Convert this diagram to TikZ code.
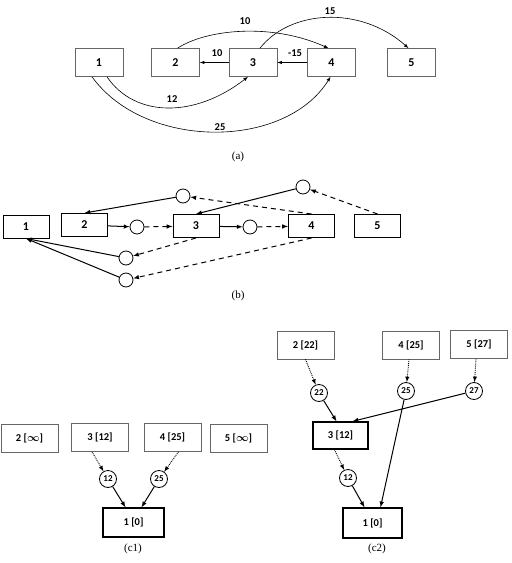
\documentclass[tikz,border=0pt]{standalone}
\usepackage{fontspec}
\setmainfont{Liberation Serif}
\newfontfamily\lbl{Carlito}
\usetikzlibrary{arrows,calc,positioning,shapes}
\tikzset{%
	boxa/.style   = {draw=black!60, line width=0.6pt, rectangle, minimum width=48pt, minimum height=28pt, inner sep=0pt, font=\lbl\bfseries\fontsize{12}{14}\selectfont},
	boxb/.style   = {draw, line width=1pt, rectangle, minimum width=46pt, minimum height=23pt, inner sep=0pt, font=\lbl\bfseries\fontsize{12}{14}\selectfont},
	boxc/.style   = {draw=black!60, line width=0.6pt, rectangle, minimum width=57pt, minimum height=28pt, inner sep=0pt, font=\lbl\bfseries\fontsize{10.5}{12}\selectfont},
	boxroot/.style= {boxc, draw=black, line width=1.3pt},
	hop/.style    = {draw, line width=0.8pt, circle, minimum size=14pt, inner sep=0pt},
	hopc/.style   = {hop, minimum size=17pt, font=\lbl\bfseries\fontsize{9}{10}\selectfont},
	elabel/.style = {font=\lbl\bfseries\fontsize{10.5}{12}\selectfont},
	caption/.style= {font=\fontsize{11}{13}\selectfont},
	arrow/.style  = {-latex, line width=0.6pt},
	solid arrow/.style = {-latex, line width=1pt},
	dash arrow/.style  = {-latex, line width=1pt, dash pattern=on 5pt off 4pt},
	dot arrow/.style   = {-latex, line width=0.9pt, densely dotted},
}

\begin{document}
\begin{tikzpicture}[x=1pt,y=-1pt]
		\useasboundingbox (0,0) rectangle (512,563);
		
		% (a) the graph
		\node[boxa] (a1) at (99,62.5) {1};
		\node[boxa] (a2) at (175.5,62.5) {2};
		\node[boxa] (a3) at (253,62.5) {3};
		\node[boxa] (a4) at (331.5,62.5) {4};
		\node[boxa] (a5) at (411.5,62.5) {5};
		
		\draw[arrow] (a3) -- (a2);
		\draw[arrow] (a4) -- (a3);
		\draw[arrow] ([xshift=2pt]a2.north) .. controls (205,30) and (270,22) .. ([xshift=-3pt]a4.north);
		\draw[arrow] ([xshift=7pt]a3.north) .. controls (290,10) and (360,5) .. ([xshift=-3pt]a5.north);
		\draw[arrow] ([xshift=8pt]a1.south) .. controls (135,118) and (195,118) .. ([xshift=-5pt]a3.south);
		\draw[arrow] ([xshift=-7pt]a1.south) .. controls (145,150) and (285,150) .. ([xshift=-1pt]a4.south);
		
		\node[elabel] (w32) at (217,53) {10};
		\node[elabel] (w43) at (295,53) {-15};
		\node[elabel] (w24) at (245,21) {10};
		\node[elabel] (w35) at (330,11) {15};
		\node[elabel] (w13) at (172,99) {12};
		\node[elabel] (w14) at (220,127) {25};
		
		\node[caption] (capa) at (238,157) {(a)};
		
		% (b) the residual graph
		\node[boxb] (b1) at (26,226.5) {1};
		\node[boxb] (b2) at (84.5,225) {2};
		\node[boxb] (b3) at (196,226) {3};
		\node[boxb] (b4) at (311.5,226) {4};
		\node[boxb] (b5) at (377.5,226) {5};
		
		\node[hop] (hA) at (183,196) {};
		\node[hop] (hB) at (303,187) {};
		\node[hop] (hC) at (137,227) {};
		\node[hop] (hD) at (250,227) {};
		\node[hop] (hE) at (126,258) {};
		\node[hop] (hF) at (126,280) {};
		
		\draw[solid arrow] (b2) -- (hC);
		\draw[dash arrow] (hC) -- (b3);
		\draw[solid arrow] (b3) -- (hD);
		\draw[dash arrow] (hD) -- (b4);
		\draw[dash arrow] (b4.north) -- (hA);
		\draw[solid arrow] (hA) -- (b2.north);
		\draw[dash arrow] (b5.north) -- (hB);
		\draw[solid arrow] (hB) -- (b3.north);
		\draw[dash arrow] (b3.south) -- (hE);
		\draw[solid arrow] (hE) -- (b1.south);
		\draw[dash arrow] (b4.south) -- (hF);
		\draw[solid arrow] (hF) -- (b1.south);
		
		\node[caption] (capb) at (238,296) {(b)};
		
		% (c1) first tree
		\node[boxc] (c2) at (29.5,438) {2 [{\boldmath$\infty$}]};
		\node[boxc] (c3) at (100,437.5) {3 [12]};
		\node[boxc] (c4) at (172.5,437.5) {4 [25]};
		\node[boxc] (c5) at (238.5,438) {5 [{\boldmath$\infty$}]};
		\node[boxroot, minimum width=61pt, minimum height=29pt] (c1) at (133.5,522.5) {1 [0]};
		
		\node[hopc] (k12) at (108,479) {12};
		\node[hopc] (k25) at (159,479) {25};
		
		\draw[dot arrow] ([xshift=-8pt]c3.south) -- (k12);
		\draw[solid arrow] (k12) -- ([xshift=-8pt]c1.north);
		\draw[dot arrow] ([xshift=6pt]c4.south) -- (k25);
		\draw[solid arrow] (k25) -- ([xshift=8pt]c1.north);
		
		\node[caption] (capc1) at (133,549) {(c1)};
		
		% (c2) second tree
		\node[boxc] (d2) at (305.5,345) {2 [22]};
		\node[boxc] (d4) at (411,345) {4 [25]};
		\node[boxc] (d5) at (479,344.5) {5 [27]};
		\node[boxroot, minimum width=55pt, minimum height=27pt] (d3) at (340.5,435.5) {3 [12]};
		\node[boxroot, minimum width=59pt, minimum height=30pt] (d1) at (372.5,523) {1 [0]};
		
		\node[hopc] (m22) at (319,393) {22};
		\node[hopc] (m25) at (406,391) {25};
		\node[hopc] (m27) at (474,391) {27};
		\node[hopc] (m12) at (348,478) {12};
		
		\draw[dot arrow] (d2.south) -- (m22);
		\draw[solid arrow] (m22) -- ([xshift=-4pt]d3.north);
		\draw[dot arrow] ([xshift=-2pt]d4.south) -- (m25);
		\draw[solid arrow] (m25) -- ([xshift=8pt]d1.north);
		\draw[dot arrow] ([xshift=-3pt]d5.south) -- (m27);
		\draw[solid arrow] (m27) -- ([xshift=12pt]d3.north);
		\draw[dot arrow] ([xshift=-6pt]d3.south) -- (m12);
		\draw[solid arrow] (m12) -- ([xshift=-8pt]d1.north);
		
		\node[caption] (capc2) at (377,549) {(c2)};
\end{tikzpicture}
\end{document}
